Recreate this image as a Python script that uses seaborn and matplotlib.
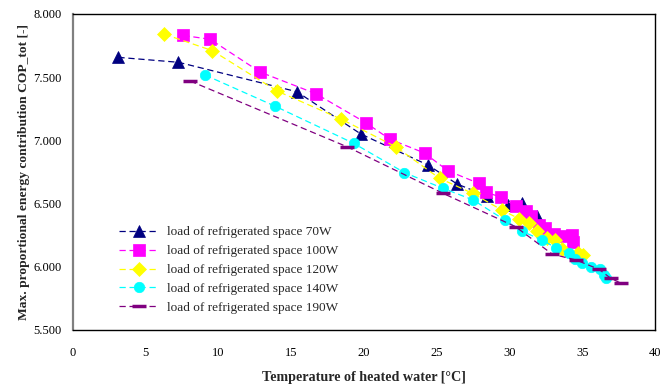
import matplotlib
matplotlib.use("Agg")
import matplotlib.pyplot as plt
import seaborn as sns
import pandas as pd

# values
x_70 = [3.12, 7.25, 15.39, 19.79, 24.40, 26.40, 28.45, 29.90, 30.84, 31.87]
y_70 = [7.657, 7.618, 7.385, 7.05, 6.805, 6.655, 6.56, 6.49, 6.505, 6.40]

x_100 = [7.59, 9.43, 12.87, 16.68, 20.12, 21.77, 24.16, 25.76, 27.89, 28.38,
         29.44, 30.42, 31.11, 31.45, 32.00, 32.42, 33.03, 33.72, 34.32, 34.36]
y_100 = [7.83, 7.80, 7.54, 7.37, 7.14, 7.01, 6.90, 6.76, 6.66, 6.59,
         6.55, 6.48, 6.44, 6.40, 6.33, 6.31, 6.26, 6.24, 6.25, 6.20]

x_120 = [6.28, 9.58, 14.04, 18.40, 22.18, 25.19, 27.48, 29.46, 30.66, 31.35,
         31.89, 32.58, 33.13, 33.64, 34.73, 35.03]
y_120 = [7.84, 7.71, 7.39, 7.17, 6.95, 6.70, 6.58, 6.45, 6.38, 6.35,
         6.28, 6.23, 6.21, 6.14, 6.11, 6.09]

x_140 = [9.08, 13.90, 19.29, 22.78, 25.45, 27.48, 29.68, 30.83, 32.26, 33.20,
         34.11, 34.50, 34.96, 35.60, 36.22, 36.50, 36.60]
y_140 = [7.517, 7.27, 6.977, 6.745, 6.62, 6.53, 6.37, 6.283, 6.21, 6.15,
         6.107, 6.06, 6.03, 6.00, 5.98, 5.935, 5.91]

x_190 = [8.05, 18.83, 25.45, 30.42, 32.94, 34.57, 36.15, 36.95, 37.66]
y_190 = [7.47, 6.95, 6.58, 6.317, 6.10, 6.054, 5.98, 5.91, 5.87]

labels = ["load of refrigerated space 70W", "load of refrigerated space 100W",
          "load of refrigerated space 120W", "load of refrigerated space 140W",
          "load of refrigerated space 190W"]
y_ticks = [5.5, 6.0, 6.5, 7.0, 7.5, 8.0]

series = [(x_70, y_70), (x_100, y_100), (x_120, y_120), (x_140, y_140), (x_190, y_190)]
colors = ["#000080", "#FF00FF", "#FFFF00", "#00FFFF", "#800080"]
markers = ["^", "s", "D", "o", "_"]
msizes = [8, 8, 7, 7.5, 10]

sns.set_style("white")
plt.rcParams["font.family"] = ["Liberation Serif", "DejaVu Serif"]

fig = plt.figure(figsize=(6.67, 3.9), dpi=100)
ax = fig.add_axes([73 / 667, 1 - 330 / 390, (655 - 73) / 667, (330 - 14) / 390])

for (xs, ys), lab, c, m, ms in zip(series, labels, colors, markers, msizes):
    df = pd.DataFrame({"x": xs, "y": ys})
    sns.lineplot(data=df, x="x", y="y", ax=ax, sort=False, estimator=None,
                 color=c, marker=m, markersize=ms, markeredgecolor=c,
                 markeredgewidth=2.5 if m == "_" else 0.5,
                 linestyle=(0, (5, 3)), linewidth=0.9, label=lab)

ax.set_xlim(0, 40)
ax.set_ylim(5.5, 8.0)
ax.set_xticks(range(0, 41, 5))
ax.set_yticks(y_ticks)
ax.set_yticklabels([f"{v:.3f}" for v in y_ticks])
ax.tick_params(axis="both", direction="out", length=4, width=0.8,
               labelsize=9, colors="black")
ax.tick_params(axis="y", pad=4)
ax.tick_params(axis="x", pad=8)

for side in ["top", "right", "bottom"]:
    ax.spines[side].set_color("black")
    ax.spines[side].set_linewidth(1.0)
ax.spines["left"].set_color("#808080")
ax.spines["left"].set_linewidth(1.6)

ax.set_xlabel("Temperature of heated water [°C]", fontsize=10.2, fontweight="bold", labelpad=9)
ax.set_ylabel("Max. proportional energy contribution COP_tot [-]", fontsize=9.7,
              fontweight="bold")
ax.yaxis.set_label_coords(-0.074, 0.5)

leg = ax.legend(loc="upper left", bbox_to_anchor=(0.07, 0.345), frameon=False,
                fontsize=9.5, handlelength=3.0, handletextpad=0.6,
                labelspacing=0.5, borderaxespad=0)

fig.savefig("out.png", dpi=100)
